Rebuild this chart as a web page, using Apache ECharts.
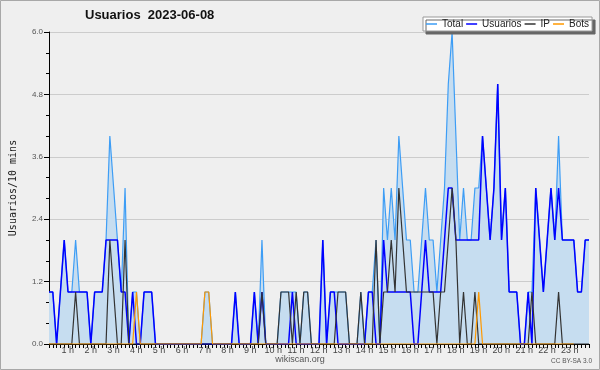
<!DOCTYPE html>
<html>
<head>
<meta charset="utf-8">
<script src="https://cdn.jsdelivr.net/npm/echarts@6/dist/echarts.min.js"></script>
<style>
html, body { margin: 0; padding: 0; background: #efefef; }
#main { width: 600px; height: 370px; }
</style>
</head>
<body>
<div id="main"></div>
<script>
// valores cada 10 min (143 puntos, 00:00 -> 23:40)
var total = [1,1,0,1,2,1,1,2,1,1,1,0,1,1,1,2,4,3,2,1,3,0,1,1,0,1,1,1,0,0,
             0,0,0,0,0,0,0,0,0,0,0,1,1,0,0,0,0,0,0,1,0,0,0,0,1,0,2,0,0,0,
             0,1,1,1,1,1,0,1,1,0,0,0,2,0,1,1,1,1,1,0,0,0,1,0,1,1,2,0,3,2,
             3,2,4,3,2,2,1,1,2,3,2,2,1,2,3,5,6,4,2,3,2,2,3,3,4,3,2,3,5,2,
             3,1,1,1,0,0,1,1,3,2,1,2,3,2,4,2,2,2,2,1,1,2,2];
var usuarios = [1,1,0,1,2,1,1,1,1,1,1,0,1,1,1,2,2,2,2,1,1,0,1,0,0,1,1,1,0,0,
                0,0,0,0,0,0,0,0,0,0,0,0,0,0,0,0,0,0,0,1,0,0,0,0,1,0,1,0,0,0,
                0,0,0,0,1,0,0,0,0,0,0,0,2,0,1,1,0,0,0,0,0,0,0,0,1,1,0,0,2,1,
                1,1,1,1,1,1,0,0,1,2,1,1,1,1,2,3,3,2,2,2,2,2,2,2,4,3,2,3,5,2,
                3,1,1,1,0,0,1,0,3,2,1,2,3,2,3,2,2,2,2,1,1,2,2];
var ip = [0,0,0,0,0,0,0,1,0,0,0,0,0,0,0,0,2,1,0,0,2,0,0,0,0,0,0,0,0,0,
          0,0,0,0,0,0,0,0,0,0,0,0,0,0,0,0,0,0,0,0,0,0,0,0,0,0,1,0,0,0,
          0,1,1,1,0,1,0,1,1,0,0,0,0,0,0,0,1,1,1,0,0,0,1,0,0,0,2,0,1,1,
          2,1,3,2,1,1,1,1,1,1,1,1,0,1,1,2,3,2,0,1,0,0,1,0,0,0,0,0,0,0,
          0,0,0,0,0,0,0,1,0,0,0,0,0,0,1,0,0,0,0,0,0,0,0];
var bots = [0,0,0,0,0,0,0,0,0,0,0,0,0,0,0,0,0,0,0,0,0,0,0,1,0,0,0,0,0,0,
            0,0,0,0,0,0,0,0,0,0,0,1,1,0,0,0,0,0,0,0,0,0,0,0,0,0,0,0,0,0,
            0,0,0,0,0,0,0,0,0,0,0,0,0,0,0,0,0,0,0,0,0,0,0,0,0,0,0,0,0,0,
            0,0,0,0,0,0,0,0,0,0,0,0,0,0,0,0,0,0,0,0,0,0,0,1,0,0,0,0,0,0,
            0,0,0,0,0,0,0,0,0,0,0,0,0,0,0,0,0,0,0];
var yMax = 6.0;
var yStep = 1.2;
var titulo = 'Usuarios  2023-06-08';

var cats = [];
for (var i = 0; i < total.length; i++) {
    var m = i * 10;
    cats.push(Math.floor(m / 60) + ':' + ('0' + (m % 60)).slice(-2));
}

var chart = echarts.init(document.getElementById('main'));

var option = {
    animation: false,
    backgroundColor: '#efefef',
    textStyle: { fontFamily: 'Liberation Sans' },
    title: {
        text: titulo,
        left: 80,
        top: 4,
        textStyle: { fontSize: 13, fontWeight: 'bold', color: '#111', fontFamily: 'Liberation Sans' }
    },
    legend: {
        data: ['Total', 'Usuarios', 'IP', 'Bots'],
        left: 423,
        top: 17,
        padding: [1, 3, 1, 3],
        itemGap: 3,
        itemWidth: 11,
        itemHeight: 1.5,
        icon: 'rect',
        backgroundColor: '#ffffff',
        borderColor: '#999999',
        borderWidth: 1,
        shadowColor: '#666666',
        shadowBlur: 0,
        shadowOffsetX: 3,
        shadowOffsetY: 3,
        textStyle: { fontSize: 10, color: '#222', lineHeight: 12, padding: [0, 0, 0, 0] }
    },
    grid: {
        left: 47,
        right: 11,
        top: 32,
        bottom: 26
    },
    xAxis: {
        type: 'category',
        boundaryGap: false,
        data: cats,
        axisLine: { lineStyle: { color: '#000', width: 1 } },
        axisTick: { show: true, interval: 0, length: 4, lineStyle: { color: '#000' } },
        axisLabel: {
            interval: function (idx) { return idx % 6 === 0 && idx > 0; },
            formatter: function (v, idx) { return (idx / 6) + ' h'; },
            fontSize: 9,
            color: '#444',
            margin: 2,
            padding: [0, 8, 0, 0]
        },
        splitLine: { show: false }
    },
    yAxis: {
        type: 'value',
        min: 0,
        max: yMax,
        interval: yStep,
        name: 'Usuarios/10 mins',
        nameLocation: 'middle',
        nameRotate: 90,
        nameGap: 31,
        nameTextStyle: { fontFamily: 'DejaVu Sans Mono', fontSize: 10, color: '#222' },
        axisLine: { show: true, lineStyle: { color: '#000', width: 1 } },
        axisTick: { show: true, length: 5, lineStyle: { color: '#000' } },
        minorTick: { show: true, splitNumber: 3, length: 3, lineStyle: { color: '#000' } },
        axisLabel: {
            fontSize: 8,
            color: '#555',
            margin: 6,
            formatter: function (v) { return v.toFixed(1); }
        },
        splitLine: { show: true, lineStyle: { color: '#cccccc', width: 1 } }
    },
    series: [
        {
            name: 'Total', type: 'line', data: total, symbol: 'none',
            lineStyle: { color: '#3d9df5', width: 1.2 },
            itemStyle: { color: '#3d9df5' },
            areaStyle: { color: '#c6ddf0', opacity: 1 },
            z: 1
        },
        {
            name: 'Usuarios', type: 'line', data: usuarios, symbol: 'none',
            lineStyle: { color: '#0000ff', width: 1.5 },
            itemStyle: { color: '#0000ff' },
            z: 2
        },
        {
            name: 'IP', type: 'line', data: ip, symbol: 'none',
            lineStyle: { color: '#333333', width: 1.2 },
            itemStyle: { color: '#333333' },
            z: 3
        },
        {
            name: 'Bots', type: 'line', data: bots, symbol: 'none',
            lineStyle: { color: '#ff9900', width: 1.2 },
            itemStyle: { color: '#ff9900' },
            z: 4
        }
    ],
    graphic: [
        {
            type: 'rect', silent: true,
            shape: { x: 0.5, y: 0.5, width: 599, height: 369 },
            style: { fill: 'none', stroke: '#a8a8a8', lineWidth: 1 }
        },
        {
            type: 'text', left: 'center', top: 355,
            style: { text: 'wikiscan.org', fontSize: 9, fill: '#555', fontFamily: 'Liberation Sans' }
        },
        {
            type: 'text', right: 8, top: 358,
            style: { text: 'CC BY-SA 3.0', fontSize: 6.5, fill: '#555', fontFamily: 'Liberation Sans' }
        }
    ]
};

chart.setOption(option);
</script>
</body>
</html>
